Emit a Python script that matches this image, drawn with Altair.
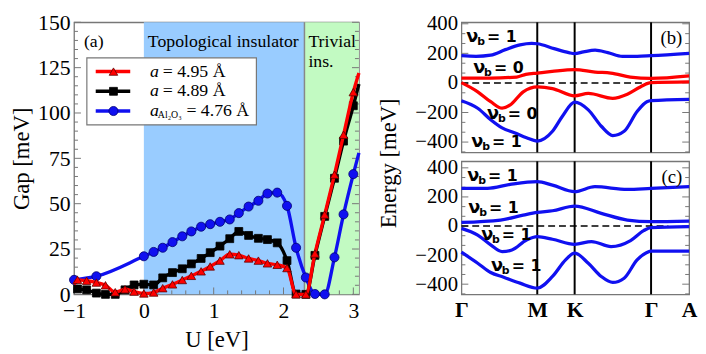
import altair as alt
import pandas as pd

# ---------------- panel (a): gap vs U ----------------
U_GRID = [-1.0, -0.95, -0.82, -0.68, -0.55, -0.41, -0.27, -0.14,
          0.0, 0.14, 0.27, 0.41, 0.55, 0.68, 0.82, 0.95, 1.09, 1.23,
          1.36, 1.50, 1.64, 1.77, 1.91, 2.05, 2.18, 2.32, 2.45, 2.59,
          2.73, 2.86, 3.0, 3.08]
GAP_495 = [5.5, 8.0, 7.5, 6.5, 5.0, 1.2, 2.8, 1.5,
           0.5, 1.0, 3.4, 5.5, 7.9, 10.2, 12.7, 15.4, 18.6, 22.1,
           21.6, 19.8, 18.6, 17.1, 16.3, 14.5, 0.0, 0.0, 22.5, 44.0,
           66.0, 88.0, 111.5, 122.0]
GAP_489 = [3.5, 3.0, 2.5, 0.7, 0.0, 0.0, 2.5, 5.2,
           5.6, 5.2, 9.1, 12.0, 14.1, 16.8, 19.8, 23.0, 26.6, 30.7,
           34.7, 32.5, 30.9, 30.2, 28.4, 18.6, 0.2, 0.0, 21.5, 43.0,
           64.0, 84.5, 104.0, 116.0]
U_AL2O3 = [-1.0, -0.68, 0.0, 0.14, 0.27, 0.41, 0.55, 0.68, 0.82, 0.95,
           1.09, 1.23, 1.36, 1.50, 1.64, 1.77, 1.91, 2.05, 2.18, 2.32,
           2.45, 2.59, 2.73, 2.86, 3.0, 3.08]
GAP_AL2O3 = [8.0, 10.0, 21.0, 23.4, 25.7, 28.8, 32.0, 34.7, 37.3, 38.7,
             40.0, 41.3, 44.8, 48.4, 51.6, 55.6, 56.1, 48.8, 25.7, 9.3,
             0.2, 0.0, 20.4, 44.1, 66.3, 78.0]
MARKED_495 = U_GRID[1:-1]
MARKED_489 = U_GRID[1:-1]
MARKED_AL2O3 = U_AL2O3[:-1]

REGION_NAMES = ["Topological insulator", "Trivial ins."]
REGION_LABELS = ["Topological insulator", "Trivial\nins."]
REGION_START = [0.0, 2.3]
REGION_END = [2.3, 3.08]

U_TICKS = [-1, 0, 1, 2, 3]
U_MINOR = [-0.8, -0.6, -0.4, -0.2, 0.2, 0.4, 0.6, 0.8, 1.2, 1.4, 1.6, 1.8,
           2.2, 2.4, 2.6, 2.8]
GAP_TICKS = [0, 25, 50, 75, 100, 125, 150]
GAP_MINOR = [5, 10, 15, 20, 30, 35, 40, 45, 55, 60, 65, 70, 80, 85, 90, 95,
             105, 110, 115, 120, 130, 135, 140, 145]

# ---------------- panels (b), (c): band structures ----------------
SYM_K = [0.0, 77.7, 116.0, 194.3, 233.3]
SYM_LABELS = ["Γ", "M", "K", "Γ", "A"]
E_MAJOR = [-400, -200, 0, 200, 400]
E_MINOR = [-466.7, -333.3, -266.7, -133.3, -66.7, 66.7, 133.3, 266.7, 333.3]

B_TOP_K = [0, 15, 30, 45, 60, 72, 77.7, 95, 110, 116, 125, 137, 150, 165, 180, 194.3, 233.3]
B_TOP_E = [184, 180, 188, 225, 257, 267, 265, 232, 205, 198, 210, 222, 205, 180, 180, 184, 200]
B_CB_K = [0, 30, 56.7, 66, 78, 93, 116, 137, 153, 173, 194.3, 233.3]
B_CB_E = [33, 33, 40, 58, 67, 78, 90, 73, 67, 40, 30, 47]
B_VB_K = [0, 16.7, 30, 41.7, 50, 63.3, 78, 93.3, 116, 130, 155, 170, 183.3, 194.3, 233.3]
B_VB_E = [2, -60, -127, -171, -149, -60, -27, -38, -87, -71, -104, -76, -27, 2, 7]
B_LOW_K = [0, 16.7, 30, 41.7, 55, 66.7, 77.7, 93.3, 103.3, 116, 130, 143.3, 155, 166.7, 180, 190, 194.3, 233.3]
B_LOW_E = [-120, -171, -249, -304, -338, -371, -393, -327, -227, -130, -182, -293, -356, -327, -193, -127, -120, -111]

C_1_K = [0, 26.7, 50, 77.7, 93.3, 116, 136.7, 170, 194.3, 233.3]
C_1_E = [259, 259, 286, 305, 281, 236, 270, 252, 259, 270]
C_2_K = [0, 40, 63.3, 77.7, 93.3, 116, 143.3, 170, 194.3, 233.3]
C_2_E = [25, 41, 75, 94, 105, 137, 87, 41, 30, 34]
C_3_K = [0, 16.7, 30, 41.7, 51.7, 66.7, 77.7, 93.3, 116, 133.3, 153.3, 173.3, 186.7, 194.3, 233.3]
C_3_E = [-16, -62, -130, -176, -165, -96, -73, -91, -126, -107, -141, -100, -32, -11, -4]
C_4_K = [0, 16.7, 30, 43.3, 60, 77.7, 93.3, 106.7, 116, 130, 143.3, 155, 166.7, 180, 190, 194.3, 233.3]
C_4_E = [-180, -256, -320, -352, -393, -427, -347, -233, -187, -256, -347, -388, -359, -233, -182, -172, -172]

# ---------------- styling ----------------
FONT = "Liberation Serif"
SANS = "DejaVu Sans"
RED, BLACK, BLUE = "#ff0000", "#000000", "#1010f0"
FRAME = "#777777"

W_A, H_A = 289, 276
W_R, H_B, H_C = 231, 132, 135

one = pd.DataFrame({"z": [0]})

# ================= panel (a) =================
xs_a = alt.Scale(domain=[-1.0, 3.08], nice=False, zero=False)
ys_a = alt.Scale(domain=[0, 150], nice=False)
AX_XA = alt.Axis(values=U_TICKS, title="U [eV]", format="d", labelFontSize=22,
                 titleFontSize=23, labelPadding=6, titlePadding=8,
                 labelOverlap=False, labelFlush=False)
AX_YA = alt.Axis(values=GAP_TICKS, title="Gap [meV]", format="d", labelFontSize=22,
                 titleFontSize=23, labelPadding=4, titlePadding=4,
                 labelOverlap=False, labelFlush=False)


def XA(f):
    return alt.X(f, type="quantitative", scale=xs_a, axis=AX_XA)


def YA(f):
    return alt.Y(f, type="quantitative", scale=ys_a, axis=AX_YA)


reg_df = pd.DataFrame({"name": REGION_NAMES, "label": REGION_LABELS,
                       "start": REGION_START, "end": REGION_END})

layers_a = []
layers_a.append(
    alt.Chart(reg_df).mark_rect().encode(
        x=XA("start"), x2="end", y=alt.value(0), y2=alt.value(H_A),
        color=alt.Color("name:N", scale=alt.Scale(domain=REGION_NAMES,
                                                  range=["#99ccff", "#c2fac2"]),
                        legend=None)))
layers_a.append(
    alt.Chart(reg_df).transform_filter("datum.start > 0").mark_rule(
        color="#888888", strokeWidth=1.5).encode(x=XA("start")))
layers_a.append(
    alt.Chart(reg_df).mark_text(font=FONT, fontSize=18, align="left",
                                baseline="alphabetic", lineBreak="\n",
                                lineHeight=20, dx=4, color="black").encode(
        x=XA("start"), y=alt.value(25), text="label:N"))


def yticks_a(vals, length):
    d = pd.DataFrame({"v": vals})
    return [
        alt.Chart(d).mark_rule(color=FRAME, strokeWidth=1).encode(
            y=YA("v"), x=alt.value(0), x2=alt.value(length)),
        alt.Chart(d).mark_rule(color=FRAME, strokeWidth=1).encode(
            y=YA("v"), x=alt.value(W_A), x2=alt.value(W_A - length)),
    ]


def xticks_a(vals, length):
    d = pd.DataFrame({"v": vals})
    return [alt.Chart(d).mark_rule(color=FRAME, strokeWidth=1).encode(
        x=XA("v"), y=alt.value(H_A), y2=alt.value(H_A - length))]


layers_a += yticks_a(GAP_TICKS, 7) + yticks_a(GAP_MINOR, 4)
layers_a += xticks_a(U_TICKS, 7) + xticks_a(U_MINOR, 4)

SERIES = [
    ("al2o3", U_AL2O3, GAP_AL2O3, MARKED_AL2O3, BLUE, "circle", 85, "#000070"),
    ("489", U_GRID, GAP_489, MARKED_489, BLACK, "square", 64, "#000000"),
    ("495", U_GRID, GAP_495, MARKED_495, RED, "triangle-up", 75, "#600000"),
]
for name, uu, gg, marked, col, shape, size, stroke in SERIES:
    df = pd.DataFrame({"U": uu, "gap": gg, "marker": [u in marked for u in uu]})
    layers_a.append(alt.Chart(df).mark_line(color=col, strokeWidth=3.4,
                                            interpolate="monotone").encode(
        x=XA("U"), y=YA("gap")))
    layers_a.append(alt.Chart(df).transform_filter("datum.marker").mark_point(
        filled=True, shape=shape, size=size, color=col, stroke=stroke,
        strokeWidth=0.8, opacity=1).encode(x=XA("U"), y=YA("gap")))

# "(a)"
layers_a.append(alt.Chart(one).mark_text(text="(a)", font=FONT, fontSize=18,
                                         align="left", baseline="alphabetic",
                                         color="black").encode(
    x=alt.value(10), y=alt.value(25)))

# legend box
layers_a.append(alt.Chart(one).mark_rect(fill="white", stroke=FRAME,
                                         strokeWidth=1.2).encode(
    x=alt.value(13), x2=alt.value(185), y=alt.value(36), y2=alt.value(104)))
LEG = [(RED, "triangle-up", 75, "#600000", "= 4.95 Å", False),
       (BLACK, "square", 64, "#000000", "= 4.89 Å", False),
       (BLUE, "circle", 85, "#000070", "= 4.76 Å", True)]
for i, (col, shape, size, stroke, txt, sub) in enumerate(LEG):
    yy = 50 + 20 * i
    layers_a.append(alt.Chart(one).mark_rule(color=col, strokeWidth=3.6).encode(
        x=alt.value(22), x2=alt.value(57), y=alt.value(yy)))
    layers_a.append(alt.Chart(one).mark_point(filled=True, shape=shape, size=size,
                                              color=col, stroke=stroke,
                                              strokeWidth=0.8, opacity=1).encode(
        x=alt.value(40), y=alt.value(yy)))
    layers_a.append(alt.Chart(one).mark_text(text="a", font=FONT, fontSize=18,
                                             fontStyle="italic", align="left",
                                             baseline="middle", color="black").encode(
        x=alt.value(77), y=alt.value(yy)))
    if sub:
        layers_a.append(alt.Chart(one).mark_text(text="Al₂O₃", font=FONT,
                                                 fontSize=10, align="left",
                                                 baseline="middle",
                                                 color="black").encode(
            x=alt.value(85), y=alt.value(yy + 4)))
        tx = 114
    else:
        tx = 90
    layers_a.append(alt.Chart(one).mark_text(text=txt, font=FONT, fontSize=18,
                                             align="left", baseline="middle",
                                             color="black").encode(
        x=alt.value(tx), y=alt.value(yy)))

left = alt.layer(*layers_a).properties(width=W_A, height=H_A)


# ================= panels (b), (c) =================
def label_expr():
    s = ""
    for i in range(len(SYM_K) - 1):
        mid = (SYM_K[i] + SYM_K[i + 1]) / 2
        s += f"datum.value < {mid} ? '{SYM_LABELS[i]}' : "
    return s + f"'{SYM_LABELS[-1]}'"


def band_panel(bands, height, e_dom, dash_end, nu_labels, tag, show_x, extra=None):
    ks = alt.Scale(domain=[SYM_K[0], SYM_K[-1]], nice=False, zero=False)
    es = alt.Scale(domain=e_dom, nice=False)
    ax_x = (alt.Axis(values=SYM_K, labelExpr=label_expr(), labelFont=FONT,
                     labelFontWeight="bold", labelFontSize=22, labelPadding=5,
                     title=None, labelOverlap=False, labelFlush=False)
            if show_x else None)
    ax_y = alt.Axis(values=E_MAJOR, title=None, format="d", labelFontSize=21,
                    labelPadding=4, labelOverlap=False, labelFlush=False)

    def X(f):
        return alt.X(f, type="quantitative", scale=ks, axis=ax_x)

    def Y(f):
        return alt.Y(f, type="quantitative", scale=es, axis=ax_y)

    lay = []
    for vals, ln in ((E_MAJOR, 7), (E_MINOR, 4)):
        d = pd.DataFrame({"v": vals})
        lay.append(alt.Chart(d).mark_rule(color=FRAME, strokeWidth=1).encode(
            y=Y("v"), x=alt.value(0), x2=alt.value(ln)))
        lay.append(alt.Chart(d).mark_rule(color=FRAME, strokeWidth=1).encode(
            y=Y("v"), x=alt.value(W_R), x2=alt.value(W_R - ln)))
    dd = pd.DataFrame({"k0": [SYM_K[0]], "k1": [dash_end], "e": [0]})
    lay.append(alt.Chart(dd).mark_rule(color="black", strokeWidth=1.6,
                                       strokeDash=[7, 4]).encode(
        x=X("k0"), x2="k1", y=Y("e")))
    sd = pd.DataFrame({"k": SYM_K[1:4]})
    lay.append(alt.Chart(sd).mark_rule(color="black", strokeWidth=2).encode(x=X("k")))
    rows = []
    names, cols = [], []
    for nm, kk, ee, col in bands:
        names.append(nm)
        cols.append(col)
        for k, e in zip(kk, ee):
            rows.append({"band": nm, "k": k, "E": e})
    bdf = pd.DataFrame(rows)
    lay.append(alt.Chart(bdf).mark_line(strokeWidth=3.3, interpolate="monotone").encode(
        x=X("k"), y=Y("E"),
        color=alt.Color("band:N", scale=alt.Scale(domain=names, range=cols),
                        legend=None)))
    for (px, py, val) in nu_labels:
        lay.append(alt.Chart(one).mark_text(text="ν", font=SANS, fontSize=18,
                                            fontWeight="bold", align="left",
                                            baseline="middle", color="black").encode(
            x=alt.value(px), y=alt.value(py)))
        lay.append(alt.Chart(one).mark_text(text="b", font=SANS, fontSize=11,
                                            fontWeight="bold", align="left",
                                            baseline="middle", color="black").encode(
            x=alt.value(px + 11), y=alt.value(py + 5)))
        lay.append(alt.Chart(one).mark_text(text="= " + val, font=SANS, fontSize=16,
                                            fontWeight="bold", align="left",
                                            baseline="middle", color="black").encode(
            x=alt.value(px + 21), y=alt.value(py)))
    lay.append(alt.Chart(one).mark_text(text=tag, font=FONT, fontSize=19,
                                        align="right", baseline="middle",
                                        color="black").encode(
        x=alt.value(W_R - 7), y=alt.value(16)))
    if extra is not None:
        lay.append(extra)
    return alt.layer(*lay).properties(width=W_R, height=height)


bands_b = [("b_top", B_TOP_K, B_TOP_E, BLUE), ("b_cb", B_CB_K, B_CB_E, RED),
           ("b_vb", B_VB_K, B_VB_E, RED), ("b_low", B_LOW_K, B_LOW_E, BLUE)]
bands_c = [("c1", C_1_K, C_1_E, BLUE), ("c2", C_2_K, C_2_E, BLUE),
           ("c3", C_3_K, C_3_E, BLUE), ("c4", C_4_K, C_4_E, BLUE)]

nu_b = [(5, 15, "1"), (12, 46, "0"), (26, 93, "0"), (10, 122, "1")]
nu_c = [(6, 15, "1"), (7, 47, "1"), (20, 75, "1"), (30, 106, "1")]

energy_title = alt.Chart(one).mark_text(text="Energy [meV]", font=FONT, fontSize=23,
                                        angle=270, align="center",
                                        baseline="middle", color="black").encode(
    x=alt.value(-73), y=alt.value(2))

pb = band_panel(bands_b, H_B, [-470, 410], 193, nu_b, "(b)", False)
pc = band_panel(bands_c, H_C, [-470, 445], 212, nu_c, "(c)", True, energy_title)

right = alt.vconcat(pb, pc, spacing=9, bounds="flush").resolve_scale(
    x="independent", y="independent", color="independent")

chart = alt.hconcat(left, right, spacing=104, bounds="flush").resolve_scale(
    x="independent", y="independent", color="independent").properties(
    padding={"left": 2, "top": 0, "right": 0, "bottom": 0}
).configure_view(stroke=FRAME, strokeWidth=1.3).configure_axis(
    ticks=False, domain=False, grid=False, labelFont=FONT, titleFont=FONT,
    labelColor="black", titleColor="black", titleFontWeight="normal")

chart.save("out.html", embed_options={"renderer": "svg", "actions": False})
